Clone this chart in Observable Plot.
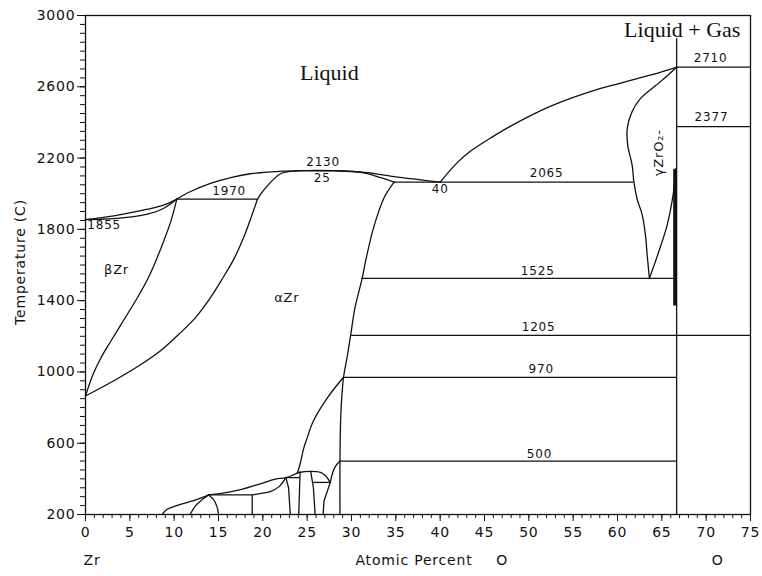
<!DOCTYPE html>
<html><head><meta charset="utf-8">
<script src="https://cdn.jsdelivr.net/npm/d3@7"></script>
<script src="https://cdn.jsdelivr.net/npm/@observablehq/plot@0.6"></script>
<style>
html,body{margin:0;padding:0;background:#fff}
#chart svg{display:block}
</style>
</head><body><div id="chart"></div>
<script>
// ---- Data (x = atomic percent O, T = temperature °C) ----
const liquidusBetaUpper = [[0,1855],[3.2,1876],[7,1913],[8.8,1936],[10.3,1970]];
const solidusBeta = [[0,1855],[3.2,1860],[7,1885],[8.8,1917],[10.3,1970]];
const liquidusAlpha = [[10.3,1970],[11.8,2011],[14.1,2058],[16.5,2092],[18.6,2112],[22.4,2127],[25,2130],[28,2129],[30,2125],[31.8,2118],[34.8,2096],[37.4,2080],[40,2065]];
const solidusAlphaLeft = [[19.4,1970],[20.1,2020],[22,2112],[23.9,2128],[25,2130]];
const solidusAlphaRight = [[25,2130],[28,2128],[30.5,2123],[31.8,2113],[33.3,2090],[34.8,2065]];
const liquidusOxide = [[40,2065],[41.9,2173],[43.4,2238],[45.7,2313],[47.9,2378],[52.4,2490],[58.1,2591],[60.3,2619],[62.6,2651],[64.8,2681],[66.67,2710]];
const alphaRightBoundary = [[34.8,2065],[33.7,1980],[32.5,1811],[31.6,1624],[31.2,1525],[30.4,1362],[29.9,1205],[29.5,1081],[29.1,970],[28.8,763],[28.7,500],[28.7,200]];
const alphaLeftBoundary = [[19.4,1970],[18.7,1870],[17.8,1750],[16.7,1630],[15.4,1520],[14.0,1410],[12.4,1305],[10.5,1210],[8.5,1120],[6.2,1040],[3.6,962],[0,865]];
const betaBoundary = [[10.3,1970],[9.6,1842],[8.5,1693],[7.2,1540],[5.8,1412],[4.3,1290],[2.8,1168],[1.7,1075],[0.8,980],[0,865]];
const gammaLeft = [[66.67,2710],[64.85,2629],[62.6,2535],[61.65,2461],[61.1,2367],[61.15,2273],[61.65,2161],[61.85,2065],[62.2,1973],[62.8,1879],[63.15,1768],[63.35,1655],[63.6,1525]];
const gammaRight = [[63.6,1525],[64.65,1674],[65.6,1824],[66.15,1955],[66.4,2049],[66.5,2140]];
// low-temperature ordering region
const lowCurveA = [[8.65,200],[9.2,229],[10.7,257],[12.2,278],[13.9,310]];
const lowCurveB = [[13.9,310],[15.5,320],[17.6,341],[19.6,370],[21.4,398],[22.6,407],[23.9,433]];
const lowDome = [[23.9,433],[24.2,437],[25.4,442],[26.5,436],[27.1,416],[27.6,380]];
const lowCurveC = [[18.8,310],[19.7,317],[20.9,330],[21.8,355],[22.6,407]];
const lowCurveD = [[11.8,200],[12.4,248],[13.2,285],[13.9,310]];
const lowCurveE = [[13.9,310],[14.5,280],[14.85,240],[15.0,200]];
const lowCurveF = [[27.6,380],[28.1,463],[28.7,500]];
const lowCurveG = [[23.9,433],[24.2,482],[24.6,570],[25.0,630],[25.7,725],[27.3,856],[29.1,970]];
const lowVert1 = [[18.8,310],[18.8,200]];
const lowVert2 = [[22.6,407],[22.9,350],[23.1,200]];
const lowVert3 = [[24.2,437],[24.05,200]];
const lowVert4 = [[25.4,442],[25.7,350],[25.9,200]];
const lowVert5 = [[27.6,380],[26.9,276],[26.8,200]];

const isotherms = [
  {T:1970, x1:10.3, x2:19.4},
  {T:2065, x1:34.8, x2:61.85},
  {T:1525, x1:31.2, x2:66.67},
  {T:1205, x1:29.9, x2:75},
  {T:970,  x1:29.1, x2:66.67},
  {T:500,  x1:28.7, x2:66.67},
  {T:2710, x1:66.67, x2:75},
  {T:2377, x1:66.67, x2:75},
  {T:310,  x1:13.9, x2:18.8},
  {T:407,  x1:22.6, x2:24.2},
  {T:380,  x1:25.7, x2:27.6}
];
const zrO2Line = [{x:66.67, T1:200, T2:2870}];
const zrO2Thick = [{x:66.45, T1:1370, T2:2135}];

const valueLabels = [
  {x:16.2, T:2017, text:"1970"},
  {x:26.8, T:2176, text:"2130"},
  {x:26.7, T:2090, text:"25"},
  {x:40.0, T:2028, text:"40"},
  {x:52.0, T:2113, text:"2065"},
  {x:51.0, T:1568, text:"1525"},
  {x:51.1, T:1249, text:"1205"},
  {x:51.4, T:1017, text:"970"},
  {x:51.2, T:540,  text:"500"},
  {x:70.5, T:2758, text:"2710"},
  {x:70.6, T:2429, text:"2377"}
];
const leftValueLabels = [{x:0.2, T:1822, text:"1855"}];
const phaseLabels = [
  {x:3.5, T:1573, text:"βZr"},
  {x:22.7, T:1418, text:"αZr"}
];
const gammaLabel = [{x:64.7, T:2230, text:"γZrO₂-"}];
const regionLabels = [
  {x:27.5, T:2680, text:"Liquid"},
  {x:67.3, T:2921, text:"Liquid + Gas"}
];
const bottomCenterLabels = [{x:0.73, text:"Zr"},{x:47.0, text:"O"},{x:71.3, text:"O"}];
const bottomStartLabels = [{x:30.45, text:"Atomic Percent"}];
const yTitle = ["Temperature (C)"];

const xMajor = d3.range(0, 76, 5);
const xMinor = d3.range(0, 76, 1);
const yMajor = d3.range(200, 3001, 400);
const yMinor = d3.range(200, 3001, 50);

// ---- Drawing ----
const ink = "#111";
const sw = 1.3;
const smooth = [liquidusBetaUpper, solidusBeta, liquidusAlpha, solidusAlphaLeft, solidusAlphaRight,
  liquidusOxide, alphaRightBoundary, alphaLeftBoundary, betaBoundary, gammaLeft, gammaRight,
  lowCurveA, lowCurveB, lowDome, lowCurveC, lowCurveD, lowCurveE, lowCurveF, lowCurveG];
const straight = [lowVert1, lowVert2, lowVert3, lowVert4, lowVert5];

const sans = "DejaVu Sans";
const marks = [
  Plot.axisX({ticks: xMinor, tickSize: 4, tickFormat: () => "", label: null, stroke: ink}),
  Plot.axisX({ticks: xMajor, tickSize: 7, tickPadding: 6, tickFormat: d => `${d}`, label: null, fontSize: 14, stroke: ink, fill: ink}),
  Plot.axisY({ticks: yMinor, tickSize: 5, tickFormat: () => "", label: null, stroke: ink}),
  Plot.axisY({ticks: yMajor, tickSize: 8, tickPadding: 2, tickFormat: d => `${d}`, label: null, fontSize: 14, stroke: ink, fill: ink}),
  ...smooth.map(pts => Plot.line(pts, {x: d => d[0], y: d => d[1], stroke: ink, strokeWidth: sw, curve: "catmull-rom"})),
  ...straight.map(pts => Plot.line(pts, {x: d => d[0], y: d => d[1], stroke: ink, strokeWidth: sw})),
  Plot.ruleY(isotherms, {y: "T", x1: "x1", x2: "x2", stroke: ink, strokeWidth: sw}),
  Plot.ruleX(zrO2Line, {x: "x", y1: "T1", y2: "T2", stroke: ink, strokeWidth: sw}),
  Plot.ruleX(zrO2Thick, {x: "x", y1: "T1", y2: "T2", stroke: ink, strokeWidth: 3}),
  Plot.frame({stroke: ink, strokeWidth: sw}),
  Plot.text(valueLabels, {x: "x", y: "T", text: "text", fontSize: 12, fill: ink}),
  Plot.text(leftValueLabels, {x: "x", y: "T", text: "text", fontSize: 12, fill: ink, textAnchor: "start"}),
  Plot.text(phaseLabels, {x: "x", y: "T", text: "text", fontSize: 13, fill: ink}),
  Plot.text(gammaLabel, {x: "x", y: "T", text: "text", fontSize: 13, fill: ink, rotate: -90}),
  Plot.text(regionLabels, {x: "x", y: "T", text: "text", fontSize: 22, fontFamily: "Liberation Serif", fill: ink}),
  Plot.text(bottomCenterLabels, {x: "x", text: "text", frameAnchor: "bottom", dy: 46, lineAnchor: "middle", textAnchor: "middle", fontSize: 14, fill: ink}),
  Plot.text(bottomStartLabels, {x: "x", text: "text", frameAnchor: "bottom", dy: 46, lineAnchor: "middle", textAnchor: "start", fontSize: 14, fill: ink}),
  Plot.text(yTitle, {frameAnchor: "left", dx: -65, dy: -3, rotate: -90, textAnchor: "middle", lineAnchor: "middle", fontSize: 14, fill: ink})
];

const svg = Plot.plot({
  width: 762,
  height: 576,
  marginLeft: 85,
  marginRight: 12,
  marginTop: 15,
  marginBottom: 62,
  x: {domain: [0, 75]},
  y: {domain: [200, 3000]},
  style: {fontFamily: sans, background: "#fff", color: ink, overflow: "visible"},
  marks
});
d3.select(svg).selectAll("text").attr("letter-spacing", "0.8");
d3.select(svg).selectAll("g[font-family='Liberation Serif'] text").attr("letter-spacing", "0");
document.getElementById("chart").appendChild(svg);
</script>
</body></html>
